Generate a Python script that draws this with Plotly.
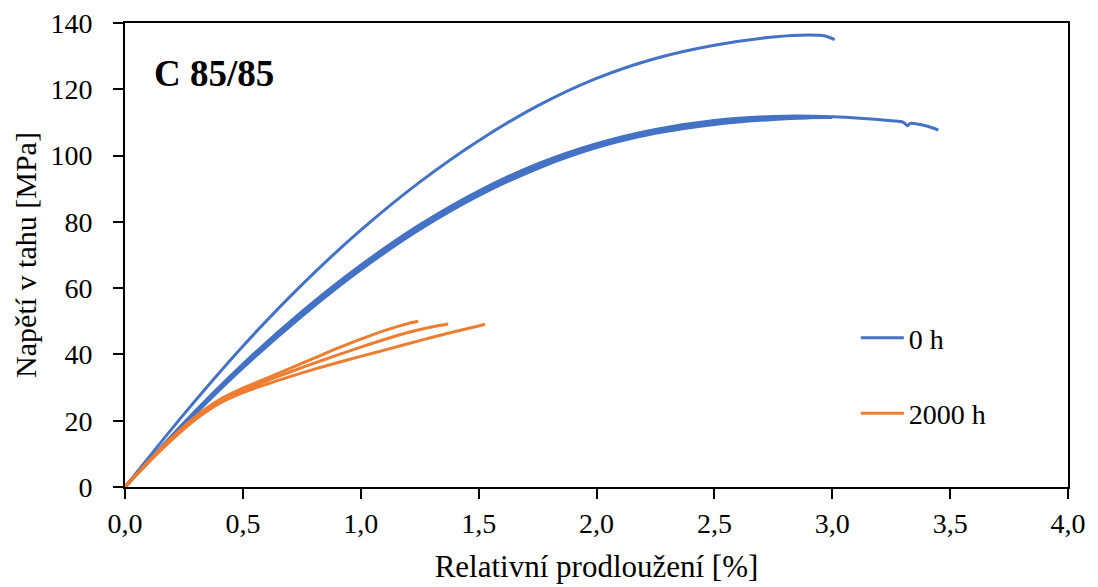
import plotly.graph_objects as go

BLUE = "#4472C4"
ORANGE = "#ED7D31"

# 0 h specimens
u_x = [0, 0.25, 0.5, 0.75, 1.0, 1.25, 1.5, 1.75, 2.0, 2.25, 2.5, 2.75, 2.9, 2.97, 3.01]
u_y = [0, 22, 42.5, 61, 77.5, 92, 104.5, 115, 123.3, 129.3, 133.3, 135.8, 136.4, 136.1, 135]

m1_x = [0, 0.25, 0.5, 0.75, 1.0, 1.25, 1.5, 1.75, 2.0, 2.25, 2.5, 2.75, 3.0, 3.25, 3.3, 3.32, 3.33, 3.4, 3.45]
m1_y = [0, 19.4, 37.1, 52.9, 66.9, 79.1, 89.3, 97.5, 103.6, 107.9, 110.6, 111.8, 111.7, 110.5, 110.1, 109.0, 109.7, 108.9, 107.7]

m2_x = [0, 0.25, 0.5, 0.75, 1.0, 1.25, 1.5, 1.75, 2.0, 2.25, 2.5, 2.75, 3.0]
m2_y = [0, 19, 36.5, 52.2, 66.2, 78.4, 88.6, 96.8, 103, 107.3, 110, 111.3, 111.5]

m3_x = [0, 0.25, 0.5, 0.75, 1.0, 1.25, 1.5, 1.75, 2.0, 2.25, 2.5, 2.75, 2.95]
m3_y = [0, 18.6, 35.9, 51.5, 65.5, 77.7, 87.9, 96.1, 102.4, 106.7, 109.4, 110.9, 111.6]

# 2000 h specimens
a_x = [0, 0.1, 0.2, 0.3, 0.4, 0.5, 0.6, 0.7, 0.8, 0.9, 1.0, 1.1, 1.2, 1.244]
a_y = [0, 7.8, 15, 21.3, 26.3, 29.8, 32.8, 35.8, 38.8, 41.8, 44.6, 47.2, 49.3, 50]

b_x = [0, 0.1, 0.2, 0.3, 0.4, 0.5, 0.6, 0.7, 0.8, 0.9, 1.0, 1.1, 1.2, 1.3, 1.371]
b_y = [0, 7.6, 14.6, 20.8, 25.7, 29.2, 32, 34.7, 37.3, 39.8, 42.2, 44.5, 46.6, 48.3, 49.2]

c_x = [0, 0.1, 0.2, 0.3, 0.4, 0.5, 0.6, 0.7, 0.8, 0.9, 1.0, 1.1, 1.2, 1.3, 1.4, 1.5, 1.527]
c_y = [0, 7.5, 14.3, 20.4, 25.2, 28.5, 31.0, 33.3, 35.5, 37.5, 39.4, 41.3, 43.2, 45.1, 46.9, 48.6, 49.1]

x_ticks = [0, 0.5, 1.0, 1.5, 2.0, 2.5, 3.0, 3.5, 4.0]
y_ticks = [0, 20, 40, 60, 80, 100, 120, 140]

FONT = "Liberation Serif"

fig = go.Figure()
blue_sets = [(u_x, u_y), (m1_x, m1_y), (m2_x, m2_y), (m3_x, m3_y)]
for i, (xs, ys) in enumerate(blue_sets):
    fig.add_trace(go.Scatter(x=xs, y=ys, mode="lines", name="0 h", legendgroup="g0",
                             showlegend=(i == 0),
                             line=dict(color=BLUE, width=3, shape="spline", smoothing=0.8)))
for i, (xs, ys) in enumerate([(a_x, a_y), (b_x, b_y), (c_x, c_y)]):
    fig.add_trace(go.Scatter(x=xs, y=ys, mode="lines", name="2000 h", legendgroup="g1",
                             showlegend=(i == 0),
                             line=dict(color=ORANGE, width=3, shape="spline", smoothing=0.8)))

axis_common = dict(showline=True, mirror=True, linecolor="black", linewidth=2,
                   ticks="outside", ticklen=10, tickwidth=2, tickcolor="black",
                   showgrid=False, zeroline=False, automargin=False,
                   ticklabeloverflow="allow",
                   tickfont=dict(family=FONT, size=28, color="black"))

fig.update_xaxes(range=[0, 4.0], tickvals=x_ticks, tickformat=".1f",
                 title=dict(text="Relativní prodloužení [%]", font=dict(family=FONT, size=31, color="black"), standoff=18),
                 **axis_common)
fig.update_yaxes(range=[0, 140], tickvals=y_ticks, ticklabelstandoff=15,
                 title=dict(text="Napětí v tahu [MPa]", font=dict(family=FONT, size=30, color="black"), standoff=5),
                 **axis_common)

fig.add_annotation(text="<b>C 85/85</b>", x=0.029, y=0.892, xref="paper", yref="paper",
                   xanchor="left", yanchor="middle", showarrow=False,
                   font=dict(family=FONT, size=37, color="black"))

fig.update_layout(
    width=1098, height=587,
    margin=dict(l=125, r=30, t=23, b=100),
    paper_bgcolor="white", plot_bgcolor="white",
    separators=", ",
    showlegend=True,
    legend=dict(x=0.775, y=0.240, xanchor="left", yanchor="middle", itemwidth=43,
                bgcolor="rgba(0,0,0,0)", tracegroupgap=36, traceorder="grouped",
                font=dict(family=FONT, size=28, color="black")),
)

# remove the browser's default 8px body margin so the figure fills the window exactly
fig.write_html("out.html", config={"displayModeBar": False},
               post_script="document.body.style.margin='0';")
